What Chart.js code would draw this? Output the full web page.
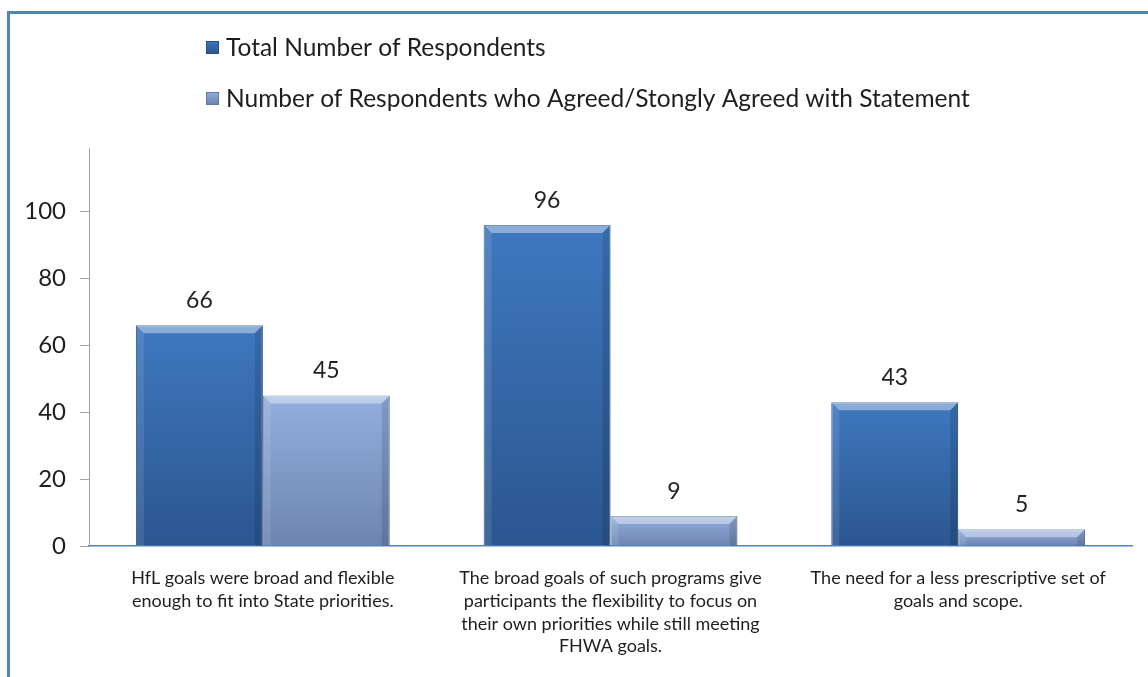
<!DOCTYPE html>
<html>
<head>
<meta charset="utf-8">
<script src="https://cdn.jsdelivr.net/npm/chart.js@4.4.0/dist/chart.umd.min.js"></script>
<style>
  html, body { margin: 0; padding: 0; background: #fff; }
  #wrap { position: relative; width: 1148px; height: 677px; overflow: hidden; }
  #frame { position: absolute; left: 7px; top: 11px; width: 1200px; height: 700px;
           border-left: 3px solid #5282c0; border-top: 3px solid #5282c0; }
  canvas { position: absolute; left: 0; top: 0; }
</style>
</head>
<body>
<div id="wrap">
  <div id="frame"></div>
  <canvas id="chart" width="1148" height="677"></canvas>
</div>
<script>
// chart data
const categories = [
    ['HfL goals were broad and flexible', 'enough to fit into State priorities.'],
    ['The broad goals of such programs give', 'participants the flexibility to focus on',
     'their own priorities while still meeting', 'FHWA goals.'],
    ['The need for a less prescriptive set of', 'goals and scope.']
];
const seriesNames = [
    'Total Number of Respondents',
    'Number of Respondents who Agreed/Stongly Agreed with Statement'
];
const totalRespondents = [66, 96, 43];
const agreedRespondents = [45, 9, 5];
const yTickValues = [0, 20, 40, 60, 80, 100];
const yMax = 119;

const FONT = 'Lato, "Open Sans", sans-serif';
const barColors = [
    { top: '#3f78c0', bottom: '#2b5690', edge: '#264f86' },
    { top: '#93afdf', bottom: '#6d84b0', edge: '#62799f' }
];

// vertical gradient for each bar
function barFill(ctx) {
    const c = barColors[ctx.datasetIndex];
    const chart = ctx.chart;
    if (!chart.chartArea || ctx.raw === undefined) return c.top;
    const yScale = chart.scales.y;
    const top = yScale.getPixelForValue(ctx.raw);
    const base = yScale.getPixelForValue(0);
    const g = chart.ctx.createLinearGradient(0, top, 0, base);
    g.addColorStop(0, c.top);
    g.addColorStop(1, c.bottom);
    return g;
}

// bevel look on top of bars
const bevelPlugin = {
    id: 'bevel',
    afterDatasetsDraw(chart) {
        const ctx = chart.ctx;
        chart.data.datasets.forEach((ds, di) => {
            chart.getDatasetMeta(di).data.forEach(bar => {
                const left = bar.x - bar.width / 2;
                const right = bar.x + bar.width / 2;
                const top = bar.y;
                const base = bar.base;
                const b = Math.min(8, (base - top) / 2);
                ctx.save();
                ctx.fillStyle = 'rgba(255,255,255,0.4)';
                ctx.beginPath();
                ctx.moveTo(left, top); ctx.lineTo(right, top);
                ctx.lineTo(right - b, top + b); ctx.lineTo(left + b, top + b);
                ctx.closePath(); ctx.fill();
                ctx.fillStyle = 'rgba(255,255,255,0.10)';
                ctx.beginPath();
                ctx.moveTo(left, top); ctx.lineTo(left + b, top + b);
                ctx.lineTo(left + b, base); ctx.lineTo(left, base);
                ctx.closePath(); ctx.fill();
                ctx.fillStyle = 'rgba(0,0,0,0.12)';
                ctx.beginPath();
                ctx.moveTo(right, top); ctx.lineTo(right - b, top + b);
                ctx.lineTo(right - b, base); ctx.lineTo(right, base);
                ctx.closePath(); ctx.fill();
                ctx.restore();
            });
        });
    }
};

// value labels above bars
const valueLabels = {
    id: 'valueLabels',
    afterDatasetsDraw(chart) {
        const ctx = chart.ctx;
        ctx.save();
        ctx.font = '23px ' + FONT;
        ctx.fillStyle = '#222';
        ctx.textAlign = 'center';
        ctx.textBaseline = 'alphabetic';
        chart.data.datasets.forEach((ds, di) => {
            chart.getDatasetMeta(di).data.forEach((bar, i) => {
                ctx.fillText(ds.data[i], bar.x, bar.y - 17);
            });
        });
        ctx.restore();
    }
};

// stacked legend in the upper left
const stackedLegend = {
    id: 'stackedLegend',
    afterDraw(chart) {
        const ctx = chart.ctx;
        const rows = [47, 98];
        ctx.save();
        ctx.font = '24.5px ' + FONT;
        ctx.textBaseline = 'middle';
        chart.data.datasets.forEach((ds, di) => {
            const y = rows[di];
            const c = barColors[di];
            const g = ctx.createLinearGradient(0, y - 6, 0, y + 6);
            g.addColorStop(0, c.top);
            g.addColorStop(1, c.bottom);
            ctx.fillStyle = g;
            ctx.fillRect(206, y - 6, 13, 13);
            ctx.strokeStyle = c.edge;
            ctx.lineWidth = 1;
            ctx.strokeRect(206.5, y - 5.5, 12, 12);
            ctx.fillStyle = '#1e1e1e';
            ctx.fillText(ds.label, 226, y + 1);
        });
        ctx.restore();
    }
};

new Chart(document.getElementById('chart'), {
    type: 'bar',
    data: {
        labels: categories,
        datasets: [
            { label: seriesNames[0], data: totalRespondents, backgroundColor: barFill,
              borderColor: barColors[0].edge, borderWidth: 1 },
            { label: seriesNames[1], data: agreedRespondents, backgroundColor: barFill,
              borderColor: barColors[1].edge, borderWidth: 1 }
        ]
    },
    options: {
        responsive: false,
        animation: false,
        layout: { padding: { top: 148, right: 16, left: 0, bottom: 0 } },
        datasets: { bar: { categoryPercentage: 0.73, barPercentage: 1 } },
        plugins: {
            legend: { display: false },
            tooltip: { enabled: false }
        },
        scales: {
            x: {
                grid: { display: false },
                border: { display: true, color: '#4f81bd', width: 1.5 },
                ticks: {
                    color: '#1e1e1e',
                    font: { family: FONT, size: 18, lineHeight: 1.26 },
                    padding: 13,
                    maxRotation: 0,
                    autoSkip: false
                },
                afterFit: scale => { scale.height = 131; }
            },
            y: {
                min: 0,
                max: yMax,
                afterBuildTicks: axis => { axis.ticks = yTickValues.map(v => ({ value: v })); },
                grid: { drawOnChartArea: false, drawTicks: true, tickLength: 9, color: '#a0a0a0' },
                border: { display: true, color: '#a0a0a0' },
                ticks: {
                    color: '#1e1e1e',
                    font: { family: FONT, size: 24 },
                    padding: 14
                },
                afterFit: scale => { scale.width = 89; }
            }
        }
    },
    plugins: [bevelPlugin, valueLabels, stackedLegend]
});
</script>
</body>
</html>
